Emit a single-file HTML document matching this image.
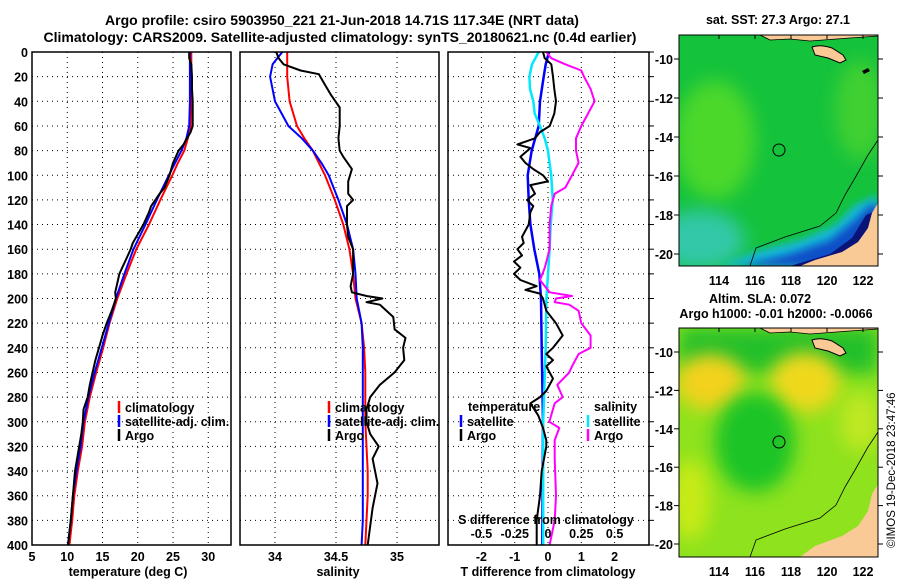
<!DOCTYPE html>
<html><head><meta charset="utf-8">
<style>
body{margin:0;background:#fff;}
svg{display:block;font-family:"Liberation Sans",sans-serif;font-weight:bold;}
</style></head>
<body>
<svg id="fig" width="900" height="580" viewBox="0 0 900 580" xmlns="http://www.w3.org/2000/svg">
<text x="342" y="25" font-size="14" text-anchor="middle">Argo profile: csiro 5903950_221 21-Jun-2018 14.71S 117.34E (NRT data)</text>
<text x="340" y="42" font-size="14" text-anchor="middle">Climatology: CARS2009. Satellite-adjusted climatology: synTS_20180621.nc (0.4d earlier)</text>
<g id="p1"></g>
<g id="p2"></g>
<g id="p3"></g>
<g id="maps">
  <text x="778" y="24" font-size="12.5" text-anchor="middle">sat. SST: 27.3 Argo: 27.1</text>
  <defs>
    <clipPath id="c1"><rect x="679" y="35" width="199" height="231"/></clipPath>
    <clipPath id="c2"><rect x="679" y="328" width="199" height="229"/></clipPath>
    <filter id="bl" x="-50%" y="-50%" width="200%" height="200%"><feGaussianBlur stdDeviation="9"/></filter>
    <filter id="bl2" x="-50%" y="-50%" width="200%" height="200%"><feGaussianBlur stdDeviation="4"/></filter>
  </defs>
  <g clip-path="url(#c1)">
    <rect x="679" y="35" width="199" height="231" fill="#14c23c"/>
    <ellipse cx="715" cy="140" rx="40" ry="60" fill="#4cd82a" filter="url(#bl)"/>
    <ellipse cx="700" cy="240" rx="45" ry="30" fill="#30c8a8" filter="url(#bl)"/>
    <ellipse cx="860" cy="110" rx="25" ry="50" fill="#40d030" filter="url(#bl)"/>
    <polygon points="720,266 760,250 800,240 835,225 855,205 878,195 878,266" fill="#18b8d8" filter="url(#bl2)"/>
    <polygon points="740,266 790,254 830,240 855,220 870,205 878,205 878,266" fill="#1050c8" filter="url(#bl2)"/>
    <polygon points="790,266 830,254 852,238 866,215 878,210 878,266" fill="#0a1478"/>
    <polygon points="878,203 872,213 868,228 858,242 842,252 815,260 800,266 878,266" fill="#f9c996"/>
    <polygon points="760,35 770,40 790,39 810,41 850,38 878,36 878,35" fill="#f9c996" stroke="#000" stroke-width="0.8"/>
    <path d="M812,47 Q820,44 832,48 L843,55 846,60 840,63 828,58 815,55 Z" fill="#f9c996" stroke="#000" stroke-width="1"/>
    <path d="M862,71 L868,68 870,71 864,74Z" fill="#000"/>
    <polyline points="750,266 756,248 785,237 820,226 836,213 845,195 855,178 868,155 878,140" fill="none" stroke="#000" stroke-width="0.8"/>
    <circle cx="779" cy="150" r="6" fill="none" stroke="#000" stroke-width="1"/>
  </g>
  <rect x="679" y="35" width="199" height="231" fill="none" stroke="#000" stroke-width="1"/>
  <text x="760" y="303" font-size="12.5" text-anchor="middle">Altim. SLA: 0.072</text>
  <text x="776" y="318" font-size="12.5" text-anchor="middle">Argo h1000: -0.01 h2000: -0.0066</text>
  <g clip-path="url(#c2)">
    <rect x="679" y="328" width="199" height="229" fill="#8ee21e"/>
    <rect x="679" y="328" width="199" height="45" fill="#20c02a" filter="url(#bl)"/>
    <ellipse cx="710" cy="382" rx="35" ry="28" fill="#f2d21a" filter="url(#bl)"/>
    <ellipse cx="805" cy="382" rx="35" ry="30" fill="#efd81e" filter="url(#bl)"/>
    <ellipse cx="755" cy="442" rx="40" ry="50" fill="#1cc428" filter="url(#bl)"/>
    <ellipse cx="690" cy="500" rx="20" ry="40" fill="#c8ea18" filter="url(#bl)"/>
    <ellipse cx="860" cy="422" rx="20" ry="30" fill="#c0e820" filter="url(#bl)"/>
    <polygon points="878,484 872,494 868,511 858,526 842,536 815,546 800,557 878,557" fill="#f9c996"/>
    <polygon points="760,328 770,333 790,332 810,334 850,331 878,329 878,328" fill="#f9c996" stroke="#000" stroke-width="0.8"/>
    <path d="M812,340 Q820,337 832,341 L843,348 846,353 840,356 828,351 815,348 Z" fill="#f9c996" stroke="#000" stroke-width="1"/>
    <polyline points="750,557 756,540 785,529 820,518 836,505 845,487 855,470 868,447 878,432" fill="none" stroke="#000" stroke-width="0.8"/>
    <circle cx="779" cy="442" r="6" fill="none" stroke="#000" stroke-width="1"/>
  </g>
  <rect x="679" y="328" width="199" height="229" fill="none" stroke="#000" stroke-width="1"/>
  <text transform="translate(895,548) rotate(-90)" font-size="11.5" font-weight="normal">©IMOS 19-Dec-2018 23:47:46</text>
</g>
</svg>
<script>
// ---------- data ----------
var depthTicks = [0,20,40,60,80,100,120,140,160,180,200,220,240,260,280,300,320,340,360,380,400];
var tempTicks = [5,10,15,20,25,30];
var salTicks = [34,34.5,35];
var tdiffTicks = [-2,-1,0,1,2];
var sdiffTicks = [-0.5,-0.25,0,0.25,0.5];

var climDepth = [0,10,20,40,60,70,80,90,100,120,140,160,180,200,220,240,260,280,300,320,340,360,380,400];
var tempClim = [27.6,27.6,27.6,27.6,27.5,27.1,26.6,25.7,24.9,23.2,21.6,19.8,18.4,17.1,16.0,15.1,14.1,13.2,12.5,12.1,11.5,11.0,10.7,10.3];
var tempSat = [27.4,27.4,27.4,27.4,27.3,26.9,26.2,25.3,24.4,22.7,21.1,19.4,18.1,16.9,15.9,14.9,13.9,13.0,12.3,11.9,11.3,10.8,10.5,10.1];
var salClim = [34.10,34.10,34.10,34.12,34.18,34.24,34.31,34.36,34.41,34.49,34.56,34.61,34.64,34.66,34.71,34.73,34.74,34.74,34.74,34.75,34.76,34.76,34.75,34.74];
var salSat = [34.06,33.98,33.96,34.0,34.11,34.22,34.31,34.38,34.44,34.52,34.59,34.64,34.66,34.67,34.71,34.72,34.72,34.72,34.72,34.72,34.72,34.72,34.72,34.71];

var argoTDepth = [0,5,10,20,30,40,50,60,65,70,75,80,85,90,100,110,115,120,125,130,140,150,155,160,170,175,180,190,195,200,210,220,230,240,250,260,270,280,290,300,310,320,340,360,380,400];
var argoTemp = [27.3,27.3,27.6,27.7,27.7,27.8,27.8,27.8,27.5,27.0,26.5,25.8,25.4,25.0,24.5,23.8,23.1,22.5,21.9,21.6,20.8,19.8,19.3,19.0,18.2,17.8,17.4,17.0,16.8,16.9,16.3,15.6,15.0,14.5,14.0,13.6,13.2,12.9,12.3,12.2,12.0,11.7,11.1,10.8,10.5,10.1];

var argoSDepth = [0,5,10,15,18,25,35,45,60,70,80,85,95,105,115,120,125,140,150,160,180,190,195,198,200,203,205,215,225,232,240,250,260,270,280,290,300,310,320,330,350,370,400];
var argoSal = [34.01,34.03,34.07,34.21,34.36,34.40,34.46,34.53,34.53,34.52,34.53,34.56,34.63,34.60,34.60,34.64,34.59,34.59,34.60,34.64,34.64,34.62,34.63,34.75,34.88,34.75,34.86,34.97,34.98,35.07,35.05,35.06,34.98,34.86,34.78,34.75,34.75,34.78,34.85,34.80,34.84,34.80,34.76];

var dTDepth = [0,10,20,40,60,80,100,120,140,160,180,200,240,300,400];
var tDiffSat = [0.03,-0.07,-0.13,-0.24,-0.28,-0.49,-0.61,-0.58,-0.53,-0.41,-0.26,-0.21,-0.19,-0.15,-0.17];
var dSDepth = [0,10,20,30,40,50,60,70,80,100,120,140,160,180,200,240,300,340,400];
var sDiffSat = [-0.07,-0.12,-0.14,-0.135,-0.11,-0.1,-0.06,-0.025,0,0.024,0.036,0.02,0.012,0,-0.012,-0.017,-0.036,-0.036,-0.036];

var argoTdDepth = [0,5,10,20,30,40,50,60,65,70,75,78,85,90,95,100,105,108,115,120,125,130,140,150,155,160,165,170,175,180,185,190,193,196,200,210,220,230,240,245,250,255,265,275,280,285,295,305,315,320,340,360,380,400];
var tDiffArgo = [-0.15,-0.1,0.1,0.15,0.19,0.24,0.19,0.05,-0.24,-0.39,-0.92,-0.53,-0.83,-0.68,-0.44,-0.15,0,-0.53,-0.39,-0.63,-0.44,-0.53,-0.58,-0.78,-0.73,-0.92,-0.78,-1.02,-0.83,-1.02,-0.83,-0.34,-0.68,-0.24,-0.15,-0.05,0.24,0.44,0.15,-0.05,0.15,-0.05,0.15,-0.05,-0.24,-0.53,-0.29,-0.15,-0.05,-0.05,-0.19,-0.24,-0.34,-0.34];

var argoSdDepth = [0,5,10,15,20,30,40,50,60,70,80,90,100,110,115,125,140,160,175,185,195,198,200,203,205,210,220,230,240,245,255,260,270,280,285,300,305,315,330,360,380,400];
var sDiffArgo = [-0.012,0.024,0.13,0.25,0.27,0.32,0.35,0.30,0.25,0.21,0.21,0.23,0.18,0.13,0.05,0.024,0.012,0.012,-0.024,-0.06,0.012,0.18,0.06,0.05,0.16,0.23,0.25,0.32,0.32,0.23,0.18,0.16,0.07,0.11,0.05,0.01,0.085,0.05,0.05,0.06,0.05,0.012];

// ---------- layout ----------
var NS = "http://www.w3.org/2000/svg";
var Y0 = 52, Y1 = 545;
function yD(d){ return Y0 + (d/400)*(Y1-Y0); }
function xT(t){ return 32 + (t-5)*7.05; }
function xS(s){ return 275 + (s-34)*122; }
function xTd(t){ return 548 + t*33.3; }
function xSd(s){ return 548 + s*133.2; }

function mk(parent, tag, attrs){
  var e = document.createElementNS(NS, tag);
  for (var k in attrs) e.setAttribute(k, attrs[k]);
  parent.appendChild(e);
  return e;
}
function txt(parent, x, y, s, size, anchor){
  var t = mk(parent, "text", {x:x, y:y, "font-size":size, "text-anchor":anchor||"middle"});
  t.textContent = s;
  return t;
}
function series(parent, xs, ds, xf, color, w){
  var pts = [];
  for (var i=0;i<xs.length;i++) pts.push(xf(xs[i]).toFixed(1)+","+yD(ds[i]).toFixed(1));
  return mk(parent, "polyline", {points: pts.join(" "), fill:"none", stroke:color, "stroke-width":w, "stroke-linejoin":"round"});
}
function frame(g, x0, x1, vticks, xf, inner){
  for (var i=0;i<depthTicks.length;i++){
    var y = yD(depthTicks[i]);
    if (depthTicks[i]>0 && depthTicks[i]<400) {
      var gl = mk(g,"line",{x1:x0,x2:x1,y1:y,y2:y,stroke:"#000","stroke-width":1,"stroke-dasharray":"1,4"});
      
      
    }
    if (!inner) {
      var tk = mk(g,"line",{x1:x1,x2:x1+5,y1:y,y2:y,stroke:"#000","stroke-width":1});
      
      
    }
  }
  for (var j=0;j<vticks.length;j++){
    var x = xf(vticks[j]);
    if (x>x0+2 && x<x1-2){
      var vl = mk(g,"line",{x1:x,x2:x,y1:Y0,y2:Y1,stroke:"#000","stroke-width":1,"stroke-dasharray":"1,4"});
      
      
    }
  }
}
function border(g,x0,x1){
  var r = mk(g,"rect",{x:x0,y:Y0,width:x1-x0,height:Y1-Y0,fill:"none",stroke:"#000","stroke-width":1.5});
  
  
}
function legendEntry(g, x, y, color, label){
  var m = mk(g,"line",{x1:x,x2:x,y1:y-11,y2:y+1,stroke:color,"stroke-width":2.5});
  
  
  var t = txt(g, x+6, y, label, 12.5, "start");
  
  
}

// ---------- panel 1 ----------
var p1 = document.getElementById("p1");
frame(p1, 32, 231, tempTicks, xT, true);
for (var i=0;i<depthTicks.length;i++){
  var dl = txt(p1, 28, yD(depthTicks[i])+5, String(depthTicks[i]), 12.5, "end");
  
  
}
for (var i=0;i<tempTicks.length;i++){
  var tl = txt(p1, xT(tempTicks[i]), 561, String(tempTicks[i]), 12.5);
  
  
}
var a1 = txt(p1, 128, 576, "temperature (deg C)", 12.5);


var s;
s = series(p1, tempClim, climDepth, xT, "#ff0000", 2);


s = series(p1, tempSat, climDepth, xT, "#0000ff", 2);


s = series(p1, argoTemp, argoTDepth, xT, "#000000", 2);


legendEntry(p1, 119, 412, "#ff0000", "climatology");
legendEntry(p1, 119, 426, "#0000ff", "satellite-adj. clim.");
legendEntry(p1, 119, 440, "#000000", "Argo");
border(p1, 32, 231);

// ---------- panel 2 ----------
var p2 = document.getElementById("p2");
frame(p2, 240, 439, salTicks, xS, true);
for (var i=0;i<salTicks.length;i++){
  var sl = txt(p2, xS(salTicks[i]), 561, String(salTicks[i]), 12.5);
  
  
}
var a2 = txt(p2, 338, 576, "salinity", 12.5);


s = series(p2, salClim, climDepth, xS, "#ff0000", 2);


s = series(p2, salSat, climDepth, xS, "#0000ff", 2);


s = series(p2, argoSal, argoSDepth, xS, "#000000", 2);


legendEntry(p2, 329, 412, "#ff0000", "climatology");
legendEntry(p2, 329, 426, "#0000ff", "satellite-adj. clim.");
legendEntry(p2, 329, 440, "#000000", "Argo");
border(p2, 240, 439);

// ---------- panel 3 ----------
var p3 = document.getElementById("p3");
frame(p3, 448, 649, tdiffTicks, xTd, false);
for (var i=0;i<tdiffTicks.length;i++){
  var dtl = txt(p3, xTd(tdiffTicks[i]), 561, String(tdiffTicks[i]), 12.5);
  
  
}
var a3 = txt(p3, 548, 576, "T difference from climatology", 12.5);


s = series(p3, tDiffSat, dTDepth, xTd, "#0000ff", 2.5);


s = series(p3, sDiffSat, dSDepth, xSd, "#00e8ff", 2.5);


s = series(p3, tDiffArgo, argoTdDepth, xTd, "#000000", 2);


s = series(p3, sDiffArgo, argoSdDepth, xSd, "#ff00ff", 2);


var lt = txt(p3, 468, 411, "temperature", 12.5, "start");


var ls = txt(p3, 594, 411, "salinity", 12.5, "start");


legendEntry(p3, 461, 426, "#0000ff", "satellite");
legendEntry(p3, 461, 440, "#000000", "Argo");
legendEntry(p3, 588, 426, "#00e8ff", "satellite");
legendEntry(p3, 588, 440, "#ff00ff", "Argo");
var sh = txt(p3, 546, 524, "S difference from climatology", 12.5);


for (var i=0;i<sdiffTicks.length;i++){
  var sdl = txt(p3, xSd(sdiffTicks[i]), 538, String(sdiffTicks[i]), 12.5);
  
  
}
border(p3, 448, 649);

// ---------- map axes ----------
var maps = document.getElementById("maps");
var lonTicks = [114,116,118,120,122];
var latTicks = [-10,-12,-14,-16,-18,-20];
function xLon(l){ return 719 + (l-114)*18; }
function yLat1(l){ return 59 + (-10-l)*19.5; }
function yLat2(l){ return 352 + (-10-l)*19.2; }
var mapDefs = [[yLat1, 266, 280, 35], [yLat2, 557, 571, 328]];
for (var m=0;m<mapDefs.length;m++){
  var yf = mapDefs[m][0], yb = mapDefs[m][1], ly = mapDefs[m][2], yt = mapDefs[m][3];
  for (var i=0;i<latTicks.length;i++){
    var y = yf(latTicks[i]);
    var la = txt(maps, 673, y+5, String(latTicks[i]), 12.5, "end");
    
    
    var tk = mk(maps,"line",{x1:674,x2:679,y1:y,y2:y,stroke:"#000","stroke-width":1});
    
    
    var tk2 = mk(maps,"line",{x1:878,x2:883,y1:y,y2:y,stroke:"#000","stroke-width":1});
    
    
  }
  for (var i=0;i<lonTicks.length;i++){
    var x = xLon(lonTicks[i]);
    var lo = txt(maps, x, ly+5, String(lonTicks[i]), 12.5);
    
    
    var tk3 = mk(maps,"line",{x1:x,x2:x,y1:yt,y2:yt+4,stroke:"#000","stroke-width":1});
    
    
  }
}
</script>
</body></html>
